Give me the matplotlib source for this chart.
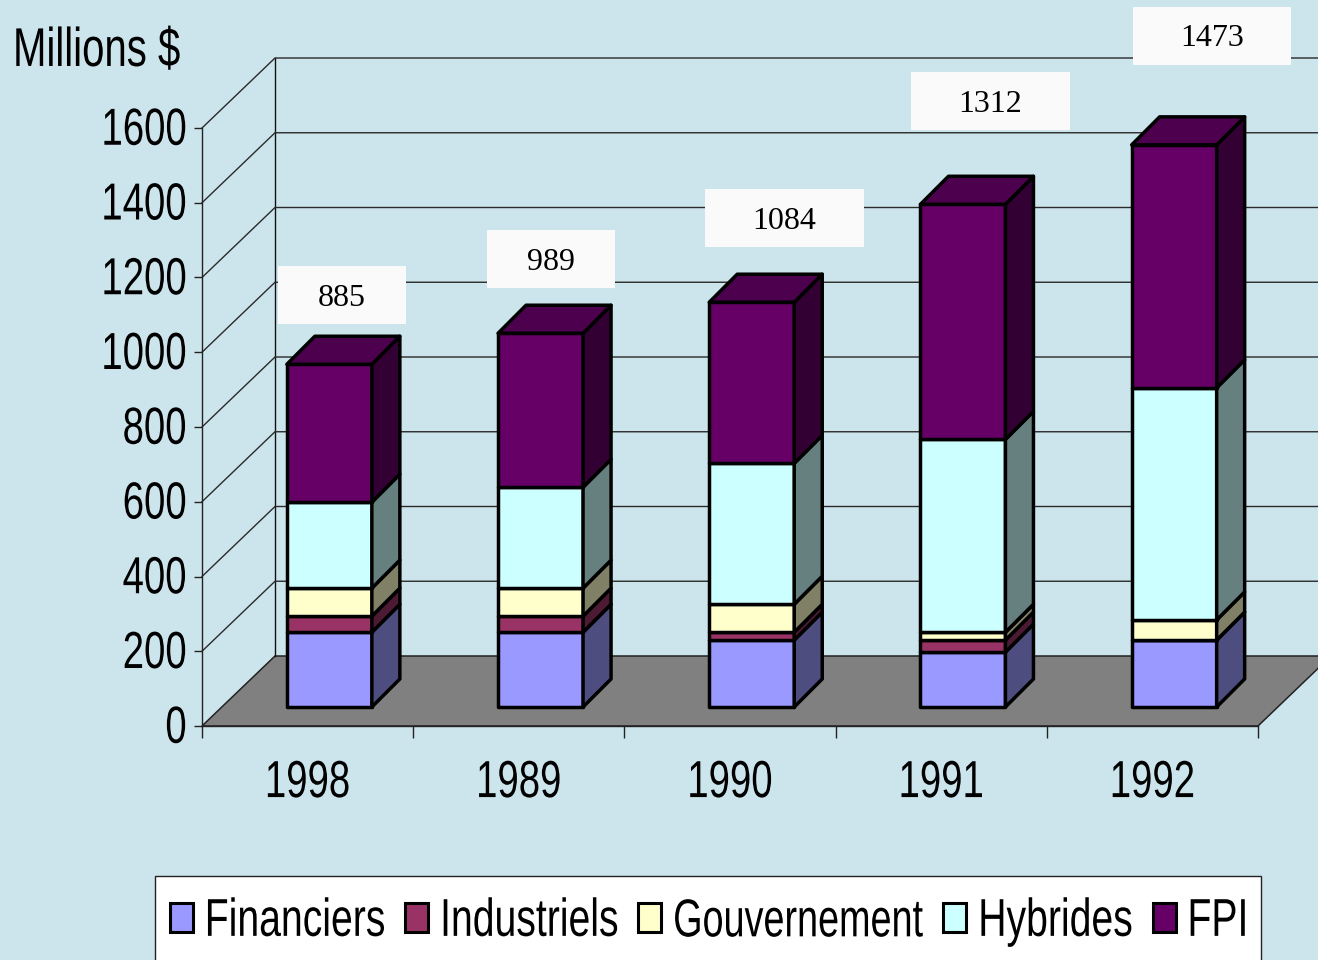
import matplotlib
matplotlib.use("Agg")
import matplotlib.pyplot as plt
from matplotlib.patches import Polygon, Rectangle, Patch
from matplotlib.patheffects import AbstractPathEffect
from matplotlib.transforms import Affine2D
from matplotlib import font_manager as fm

years = ["1998", "1989", "1990", "1991", "1992"]
financiers = [200, 200, 179, 147, 179]
industriels = [43, 43, 21, 32, 0]
gouvernement = [75, 75, 75, 21, 54]
hybrides = [230, 270, 377, 516, 621]
fpi = [369, 412, 431, 629, 650]
totals = ["885", "989", "1084", "1312", "1473"]
series_names = ["Financiers", "Industriels", "Gouvernement", "Hybrides", "FPI"]
y_ticks = [0, 200, 400, 600, 800, 1000, 1200, 1400, 1600]

W, H = 1318, 960
PX_X = 211.2
PX_Y = 598 / 1600
X0, Y0 = 202, 726

BG = "#CCE5EC"
front = ["#9999FF", "#993366", "#FFFFCC", "#CCFFFF", "#660066"]
side = ["#4D4D80", "#4D1A33", "#808066", "#668080", "#330033"]
top_col = "#4D004D"

SANS = ["Liberation Sans"]
SERIF = ["Liberation Serif"]
FS = 27.6
LEG_FS = 28.2
LEG_ENTRY_FS = [28.2, 28.2, 27.2, 28.2, 28.2]


class TallText(AbstractPathEffect):
    """Stretch glyphs vertically about the middle of the cap height: the reference font is condensed."""

    def __init__(self, factor, size_pt, lift=0):
        super().__init__()
        self.factor = factor
        self.mid = 0.344 * size_pt * 100 / 72
        self.lift = lift

    def draw_path(self, renderer, gc, tpath, affine, rgbFace=None):
        base_y = affine.to_values()[5]
        pivot = base_y + self.mid
        tall = (affine + Affine2D().translate(0, -pivot).scale(1, self.factor)
                .translate(0, pivot + self.lift))
        renderer.draw_path(gc, tpath, tall, rgbFace)


STRETCH = 1.36

fig = plt.figure(figsize=(W / 100, H / 100), dpi=100, facecolor=BG)
ax = fig.add_axes([0, 0, 1, 1], facecolor="none")
ax.set_xlim(-X0 / PX_X, (W - X0) / PX_X)
ax.set_ylim(-(H - Y0) / PX_Y, Y0 / PX_Y)

wall_dx, wall_dy = 73 / PX_X, 70 / PX_Y
ymax = y_ticks[-1]
n = len(years)

# floor
ax.add_patch(Polygon([(0, 0), (n, 0), (n + wall_dx, wall_dy), (wall_dx, wall_dy)],
                     closed=True, fc="#808080", ec="#222222", lw=1.1, zorder=1))
# walls and gridlines
GRID = "#2a2a2a"
ax.plot([wall_dx, wall_dx], [wall_dy, ymax + wall_dy], color="#111111", lw=1.0, zorder=2)
for t in y_ticks[1:]:
    ax.plot([0, wall_dx, n + wall_dx], [t, t + wall_dy, t + wall_dy], color=GRID, lw=1.0, zorder=2)

# axes
for s in ["top", "right"]:
    ax.spines[s].set_visible(False)
for s in ["left", "bottom"]:
    ax.spines[s].set_position(("data", 0))
    ax.spines[s].set_linewidth(1.0)
    ax.spines[s].set_color("#222222")
    ax.spines[s].set_zorder(3)
ax.spines["left"].set_bounds(0, ymax)
ax.spines["bottom"].set_bounds(0, n)
ax.set_yticks(y_ticks)
ax.set_yticklabels([str(t) for t in y_ticks], family=SANS, fontsize=FS, color="black",
                   path_effects=[TallText(STRETCH, FS, lift=2)])
ax.set_xticks(list(range(n + 1)))
ax.set_xticklabels([""] * (n + 1))
ax.set_xticks([i + 0.5 for i in range(n)], minor=True)
ax.set_xticklabels(years, minor=True, family=SANS, fontsize=FS, color="black",
                   path_effects=[TallText(STRETCH, FS)])
ax.tick_params(axis="y", length=6, width=1, color="#222222", pad=5)
ax.tick_params(axis="x", which="major", length=8.5, width=1, color="#222222")
ax.tick_params(axis="x", which="minor", length=0, pad=27.6)

# bars
bar_w = 85 / PX_X
shift = 0.603
dep_x, dep_y = 28 / PX_X, 75
base = 19 / PX_Y
EDGE = dict(ec="black", lw=2.5, joinstyle="round", zorder=5)
stack = [financiers, industriels, gouvernement, hybrides, fpi]
tops = []
for i in range(n):
    xl = i + shift - bar_w / 2
    xr = xl + bar_w
    b = base
    for k, vals in enumerate(stack):
        t = b + vals[i]
        ax.add_patch(Polygon([(xl, b), (xr, b), (xr, t), (xl, t)], closed=True, fc=front[k], **EDGE))
        ax.add_patch(Polygon([(xr, b), (xr + dep_x, b + dep_y), (xr + dep_x, t + dep_y), (xr, t)],
                             closed=True, fc=side[k], **EDGE))
        b = t
    ax.add_patch(Polygon([(xl, b), (xr, b), (xr + dep_x, b + dep_y), (xl + dep_x, b + dep_y)],
                         closed=True, fc=top_col, **EDGE))
    tops.append(b)

# total labels, offsets measured from the bar
label_dx = [12.6, 10.6, 32.7, 27.5, 37.8]
label_dy = [69, 74, 84, 103, 109]
box_w = [128, 128, 159, 159, 158]
for i, lab in enumerate(totals):
    cx = i + shift + label_dx[i] / PX_X
    cy = tops[i] + label_dy[i] / PX_Y
    ax.add_patch(Rectangle((cx - box_w[i] / 2 / PX_X, cy - 29 / PX_Y), box_w[i] / PX_X, 58 / PX_Y,
                           fc="#FAFAFA", ec="none", zorder=6))
    ax.text(cx, cy - 3 / PX_Y, lab, family=SERIF, fontsize=23, ha="center", va="center",
            color="black", zorder=7)

fig.text(13 / W, 1 - 61 / H, "Millions $", family=SANS, fontsize=28.9, ha="left", va="baseline",
         color="black", path_effects=[TallText(STRETCH, 28.9)])

# legend: white panel running off the bottom of the picture, entries on top of it
ax.add_patch(Rectangle((155 / W, 1 - 1000 / H), (1261 - 155) / W, 124 / H, transform=fig.transFigure,
                       fc="white", ec="#222222", lw=1.0, zorder=8))
handles = [Patch(fc=c, ec="black", lw=2.2) for c in front]
leg = ax.legend(handles, series_names, ncol=5, loc="upper left",
                bbox_to_anchor=(155 / W, 1 - 888 / H), bbox_transform=fig.transFigure,
                prop=fm.FontProperties(family=SANS, size=LEG_FS), frameon=False, borderaxespad=0,
                handlelength=0.59, handleheight=0.76, handletextpad=0.3, columnspacing=0.51,
                borderpad=0.38)
leg.set_zorder(9)
for txt, size in zip(leg.get_texts(), LEG_ENTRY_FS):
    txt.set_fontsize(size)
    txt.set_path_effects([TallText(STRETCH * LEG_FS / size, size)])

fig.savefig("out.png", dpi=100, facecolor=BG)
